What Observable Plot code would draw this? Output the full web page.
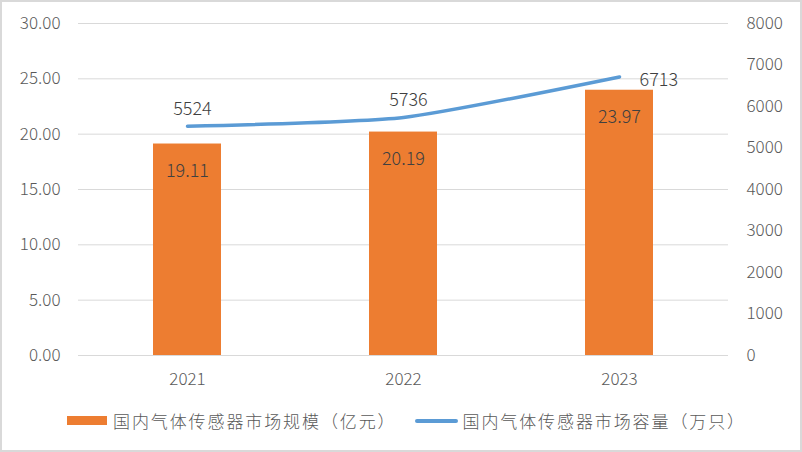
<!DOCTYPE html>
<html>
<head>
<meta charset="utf-8">
<script src="https://cdn.jsdelivr.net/npm/d3@7"></script>
<script src="https://cdn.jsdelivr.net/npm/@observablehq/plot@0.6"></script>
<style>
  html, body { margin: 0; padding: 0; background: #fff; }
  #wrap { width: 802px; height: 452px; box-sizing: border-box; border: 2px solid #d9d9d9; background: #fff; position: relative; overflow: hidden; font-family: "Noto Sans CJK SC", "Noto Sans", sans-serif; }
  #legend { position: absolute; left: 0; top: 406px; width: 798px; display: flex; align-items: center; font-size: 17px; letter-spacing: 1.9px; color: #595959; font-weight: 300; }
  .item { display: flex; align-items: center; }
  .sw-bar { width: 40px; height: 9px; background: #ED7D31; margin-right: 6px; }
  .sw-line { width: 43px; height: 4px; background: #5B9BD5; border-radius: 2px; margin-right: 5px; }
</style>
</head>
<body>
<div id="wrap"><div id="chart"></div><div id="legend"></div></div>
<script>
const years = ["2021", "2022", "2023"];
const marketSize = [19.11, 20.19, 23.97];      // 亿元 (left axis)
const capacity = [5524, 5736, 6713];           // 万只 (right axis)
const leftTicks = [0, 5, 10, 15, 20, 25, 30];
const rightTicks = [0, 1000, 2000, 3000, 4000, 5000, 6000, 7000, 8000];
const seriesNames = ["国内气体传感器市场规模（亿元）", "国内气体传感器市场容量（万只）"];

const k = 30 / 8000; // right-axis value -> left-axis scale
const rows = years.map((y, i) => ({year: y, size: marketSize[i], cap: capacity[i], capY: capacity[i] * k, i}));

const font = '"Noto Sans CJK SC", "Noto Sans", sans-serif';

const chart = Plot.plot({
  width: 798,
  height: 390,
  marginLeft: 76,
  marginRight: 72,
  marginTop: 21,
  marginBottom: 37,
  style: {fontFamily: font, fontSize: "17px", color: "#595959", background: "#fff", fontWeight: 300},
  x: {domain: years, paddingInner: 0.686, paddingOuter: 0.343, label: null},
  y: {domain: [0, 30], label: null},
  marks: [
    Plot.ruleY(leftTicks, {stroke: "#d9d9d9", strokeWidth: 1}),
    Plot.barY(rows, {x: "year", y: "size", fill: "#ED7D31"}),
    Plot.line(rows, {x: "year", y: "capY", stroke: "#5B9BD5", strokeWidth: 3.5, curve: d3.curveCardinal.tension(0.45), strokeLinecap: "round"}),
    Plot.text(rows, {x: "year", y: "size", text: d => d.size.toFixed(2), dy: 27, fill: "#404040", fontSize: 18}),
    Plot.text(rows.filter(d => d.i < 2), {x: "year", y: "capY", text: d => String(d.cap), dy: -17, dx: 5, fill: "#404040", fontSize: 18}),
    Plot.text(rows.filter(d => d.i === 2), {x: "year", y: "capY", text: d => String(d.cap), dx: 20, dy: 3, textAnchor: "start", fill: "#404040", fontSize: 18}),
    Plot.axisX({tickSize: 0, tickPadding: 17, fontSize: 17, fill: "#595959"}),
    Plot.axisY({anchor: "left", ticks: leftTicks, tickSize: 0, tickPadding: 18, tickFormat: d => d.toFixed(2), fontSize: 17, fill: "#595959"}),
    Plot.axisY({anchor: "right", ticks: rightTicks.map(v => v * k), tickSize: 0, tickPadding: 18, tickFormat: d => String(Math.round(d / k)), fontSize: 17, fill: "#595959"})
  ]
});
document.getElementById("chart").appendChild(chart);

const legend = document.getElementById("legend");
legend.innerHTML = `
  <div class="item" style="margin-left:65px"><div class="sw-bar"></div><span>${seriesNames[0]}</span></div>
  <div class="item" style="margin-left:18px"><div class="sw-line"></div><span>${seriesNames[1]}</span></div>`;
</script>
</body>
</html>
